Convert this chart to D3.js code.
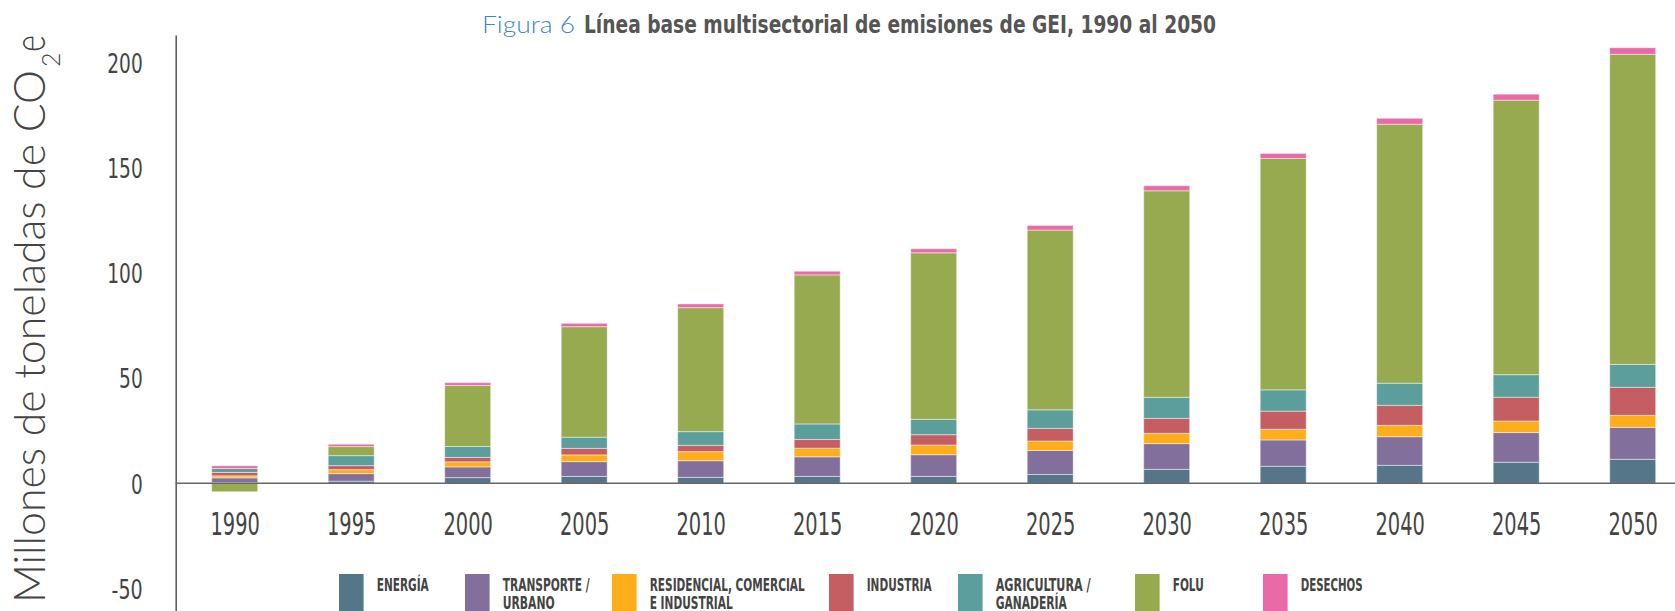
<!DOCTYPE html>
<html><head><meta charset="utf-8">
<script src="https://cdn.jsdelivr.net/npm/d3@7"></script>
<style>
html,body{margin:0;padding:0;background:#fff;}
svg{display:block;}
</style></head>
<body>
<svg id="chart" width="1675" height="611"></svg>
<script>
// ---- data ----
const years = ["1990","1995","2000","2005","2010","2015","2020","2025","2030","2035","2040","2045","2050"];
const energia     = [0.4, 1.0, 2.7, 3.3, 2.85, 3.3, 3.3, 4.2, 6.65, 8.1, 8.55, 10.0, 11.4];
const transporte  = [2.2, 3.6, 5.1, 7.0, 7.9, 9.3, 10.3, 11.4, 12.2, 12.5, 13.6, 14.1, 15.2];
const residencial = [0.95, 1.9, 2.4, 3.2, 4.3, 4.1, 4.6, 4.5, 4.9, 5.1, 5.4, 5.5, 5.7];
const industria   = [1.6, 1.9, 2.1, 3.1, 3.0, 4.1, 4.9, 6.0, 7.1, 8.6, 9.5, 11.3, 13.3];
const agricultura = [1.9, 4.75, 5.2, 5.3, 6.5, 7.4, 7.3, 8.8, 10.0, 10.1, 10.5, 10.7, 10.9];
const folu        = [-4.0, 4.3, 29.0, 52.5, 58.9, 70.8, 79.1, 85.4, 98.1, 109.9, 123.0, 130.4, 147.3];
const desechos    = [1.27, 1.1, 1.3, 1.6, 1.75, 1.75, 1.9, 2.2, 2.4, 2.4, 2.85, 2.85, 3.1];
const yTicks = [-50, 0, 50, 100, 150, 200];
const seriesKeys = ["energia","transporte","residencial","industria","agricultura","folu","desechos"];
const seriesLabels = [["ENERGÍA"],["TRANSPORTE /","URBANO"],["RESIDENCIAL, COMERCIAL","E INDUSTRIAL"],["INDUSTRIA"],["AGRICULTURA /","GANADERÍA"],["FOLU"],["DESECHOS"]];
const titleLight = "Figura 6";
const titleBold = "Línea base multisectorial de emisiones de GEI, 1990 al 2050";

// ---- styles / layout ----
const colors = ["#557689","#826f9c","#fdae1a","#c55e62","#5b9e9b","#98aa50","#e96aa7"];
const legendX = [339, 465, 612, 829, 958, 1135, 1263];
const legendTextW = [[52],[87,52],[155,83],[65],[95,71],[31],[62]];
const condensed = "'Liberation Sans Narrow','DejaVu Sans Condensed','Arial Narrow',sans-serif";

const table = years.map((yr,i)=>({year:yr, energia:energia[i], transporte:transporte[i], residencial:residencial[i],
  industria:industria[i], agricultura:agricultura[i], folu:folu[i], desechos:desechos[i]}));

const svg = d3.select("#chart");
const x = d3.scalePoint().domain(years).range([234.7, 1632.7]);
const barW = 46;
const y = d3.scaleLinear().domain([-60.7, 213]).range([611.1, 34.9]);

const stacked = d3.stack().keys(seriesKeys).offset(d3.stackOffsetDiverging)(table);

// bars
const g = svg.append("g");
stacked.forEach((s,si)=>{
  g.append("g").attr("fill", colors[si])
   .selectAll("rect").data(s).join("rect")
   .attr("x", d=>x(d.data.year)-barW/2)
   .attr("width", barW)
   .attr("y", d=>y(Math.max(d[0],d[1])))
   .attr("height", d=>Math.abs(y(d[0])-y(d[1])))
   .attr("stroke","rgba(255,255,255,0.45)")
   .attr("stroke-width",1);
});

// y axis
const yAxis = svg.append("g").attr("transform","translate(175.7,0)")
  .call(d3.axisLeft(y).tickValues(yTicks).tickFormat(d=>String(d)).tickSize(0).tickSizeOuter(0).tickPadding(33));
yAxis.select(".domain").attr("stroke","#555").attr("stroke-width",1.5);
yAxis.selectAll("text")
  .attr("font-family", condensed).attr("font-size",27).attr("fill","#444")
  .attr("dy","0.36em")
  .attr("lengthAdjust","spacingAndGlyphs")
  .attr("textLength", d=>{ const s=String(d); let w=0; for(const c of s){ w += (c==="-")?7.5:11.8; } return w; });

// zero line
svg.append("line").attr("x1",175.7).attr("x2",1675).attr("y1",y(0)).attr("y2",y(0))
  .attr("stroke","#666").attr("stroke-width",1.6);

// x axis labels
const xAxis = svg.append("g").attr("transform",`translate(0,${y(0)})`)
  .call(d3.axisBottom(x).tickSize(0).tickPadding(29));
xAxis.select(".domain").remove();
xAxis.selectAll("text")
  .attr("font-family", condensed).attr("font-size",32).attr("fill","#444")
  .attr("lengthAdjust","spacingAndGlyphs").attr("textLength",49.4);

// title
svg.append("text").attr("x",482).attr("y",33.3)
  .attr("font-family","Lato,'Open Sans',sans-serif").attr("font-weight",300)
  .attr("font-size",24).attr("fill","#3f86c4")
  .attr("lengthAdjust","spacingAndGlyphs").attr("textLength",93)
  .text(titleLight);
svg.append("text").attr("x",584).attr("y",33.3)
  .attr("font-family",condensed).attr("font-weight",700)
  .attr("font-size",24).attr("fill","#555")
  .attr("lengthAdjust","spacingAndGlyphs").attr("textLength",632)
  .text(titleBold);

// y axis title (rotated)
const yt = "Millones de toneladas de CO";
svg.append("text").attr("transform","translate(45,603) rotate(-90)")
  .attr("font-family","Lato,'Open Sans',sans-serif").attr("font-weight",300)
  .attr("font-size",43).attr("fill","#444")
  .attr("lengthAdjust","spacingAndGlyphs").attr("textLength",533)
  .text(yt);
svg.append("text").attr("transform","translate(60,67) rotate(-90)")
  .attr("font-family","Lato,'Open Sans',sans-serif").attr("font-weight",300)
  .attr("font-size",25).attr("fill","#444")
  .attr("lengthAdjust","spacingAndGlyphs").attr("textLength",14.5)
  .text("2");
svg.append("text").attr("transform","translate(45,52) rotate(-90)")
  .attr("font-family","Lato,'Open Sans',sans-serif").attr("font-weight",300)
  .attr("font-size",43).attr("fill","#444")
  .attr("lengthAdjust","spacingAndGlyphs").attr("textLength",17)
  .text("e");

// legend
const lg = svg.append("g");
seriesKeys.forEach((k,i)=>{
  lg.append("rect").attr("x",legendX[i]).attr("y",574).attr("width",24.6).attr("height",37)
    .attr("fill",colors[i]);
  const tx = legendX[i] + 37.7;
  seriesLabels[i].forEach((line,li)=>{
    lg.append("text").attr("x",tx).attr("y",590.7 + li*18.7)
      .attr("font-family",condensed).attr("font-weight",700)
      .attr("font-size",18).attr("fill","#444")
      .attr("lengthAdjust","spacingAndGlyphs").attr("textLength",legendTextW[i][li])
      .text(line);
  });
});
</script>
</body></html>
